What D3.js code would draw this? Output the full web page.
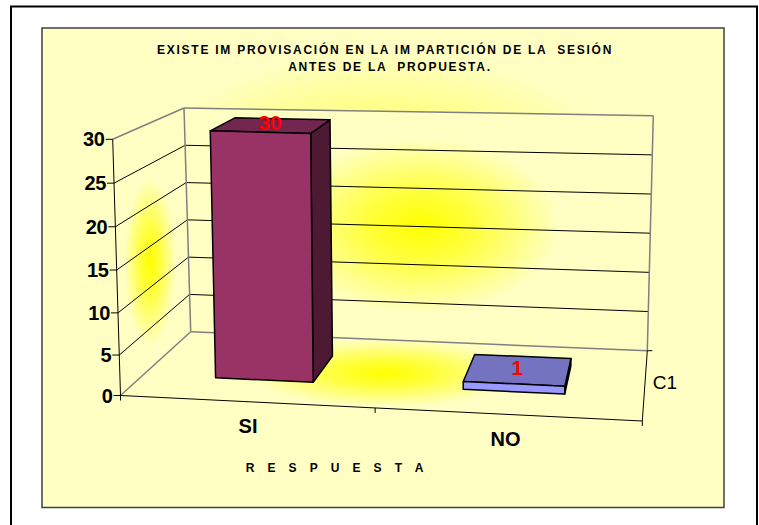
<!DOCTYPE html>
<html>
<head>
<meta charset="utf-8">
<script src="https://cdn.jsdelivr.net/npm/d3@7"></script>
<style>
  html, body { margin: 0; padding: 0; background: #fff; }
  svg { display: block; }
  text { font-family: "Liberation Sans", Arial, sans-serif; fill: #000; }
</style>
</head>
<body>
<div id="chart"></div>
<script>
var categories = ["SI", "NO"],
    values = [30, 1],
    barColors = ["#993366", "#9999FF"],
    topColors = ["#732650", "#7373BF"],
    sideColors = ["#4D1933", "#000000"],
    yTicks = [0, 5, 10, 15, 20, 25, 30],
    seriesName = "C1",
    titleLines = ["EXISTE IM PROVISACIÓN EN LA IM PARTICIÓN DE LA  SESIÓN", "ANTES DE LA  PROPUESTA."],
    xTitle = "R E S P U E S T A";

var svg = d3.select("#chart").append("svg").attr("width", 759).attr("height", 525);
var defs = svg.append("defs");

// corners of the 3d box, measured on the picture
var frontBottomL = [120.5, 395.5], frontBottomR = [642.3, 421],
    frontTopL = [112.7, 139.3], frontTopR = [650, 155],
    backBottomL = [190.7, 331.7], backBottomR = [647.3, 350.7],
    backTopL = [184, 108], backTopR = [653.3, 115.7];

var x = d3.scaleBand().domain(categories).range([0.005, 0.995]).paddingInner(0.6).paddingOuter(0.3);
var persp = d3.scalePow().exponent(1.035).domain([0, 1]).range([0, 1]);
var yFront = d3.scalePow().exponent(1.03).domain([0, 30]).range([0, 1]);
var yBack = d3.scaleLinear().domain([0, 30]).range([0, 1]);

function mix(a, b, t) { return [a[0] + (b[0] - a[0]) * t, a[1] + (b[1] - a[1]) * t]; }

// u across (0-1), val is the data value, z depth (0 front - 1 back)
function project(u, val, z) {
    var p = persp(u);
    var f = mix(mix(frontBottomL, frontBottomR, p), mix(frontTopL, frontTopR, p), yFront(val));
    var b = mix(mix(backBottomL, backBottomR, p), mix(backTopL, backTopR, p), yBack(val));
    return mix(f, b, z);
}

var line = d3.line();
var poly = d3.line().curve(d3.curveLinearClosed);

function glow(id, cx, cy, rx, ry, stops) {
    var g = defs.append("radialGradient").attr("id", id)
        .attr("gradientUnits", "userSpaceOnUse")
        .attr("cx", 0).attr("cy", 0).attr("r", 1)
        .attr("gradientTransform", `translate(${cx},${cy}) scale(${rx},${ry})`);
    stops.forEach(function(s) {
        g.append("stop").attr("offset", s[0]).attr("stop-color", s[1]);
    });
}

var pale = "#FFFFC4";
glow("bgGlow", 383, 225, 270, 175, [[0, "#FFFF00"], [0.7, "#FFFF90"], [1, pale]]);
glow("wallGlow", 420, 226, 140, 88, [[0, "#FFFF00"], [0.4, "#FFFF40"], [1, pale]]);
glow("sideGlow", 150, 262, 26, 84, [[0, "#FFFF00"], [0.4, "#FFFF40"], [1, pale]]);
glow("floorGlow", 385, 373, 135, 34, [[0, "#FFFF00"], [0.4, "#FFFF40"], [1, pale]]);

// outer frame, runs off the bottom of the page
svg.append("path")
    .attr("d", "M11,535V6.5H757V535")
    .attr("fill", "none").attr("stroke", "#000").attr("stroke-width", 2);

svg.append("rect")
    .attr("x", 42).attr("y", 28).attr("width", 682).attr("height", 479.5)
    .attr("fill", "url(#bgGlow)")
    .attr("stroke", "#404040").attr("stroke-width", 1.5);

// walls
svg.append("path").attr("d", poly([backBottomL, backBottomR, backTopR, backTopL])).attr("fill", "url(#wallGlow)");
svg.append("path").attr("d", poly([frontBottomL, backBottomL, backTopL, frontTopL])).attr("fill", "url(#sideGlow)");
svg.append("path").attr("d", poly([frontBottomL, frontBottomR, backBottomR, backBottomL])).attr("fill", "url(#floorGlow)");

// gridlines
yTicks.forEach(function(t) {
    var edge = (t == 0 || t == 30);
    svg.append("path")
        .attr("d", line([project(0, t, 1), project(1, t, 1)]))
        .attr("fill", "none").attr("stroke", edge ? "#808080" : "#000").attr("stroke-width", edge ? 1.5 : 1);
    svg.append("path")
        .attr("d", line([project(0, t, 0), project(0, t, 1)]))
        .attr("fill", "none").attr("stroke", edge ? "#808080" : "#000").attr("stroke-width", edge ? 1.5 : 1);
});

svg.append("path").attr("d", line([backTopL, backBottomL]))
    .attr("fill", "none").attr("stroke", "#808080").attr("stroke-width", 1.5);
svg.append("path").attr("d", line([backTopR, backBottomR]))
    .attr("fill", "none").attr("stroke", "#808080").attr("stroke-width", 1.5);

// axes
var axisPath = svg.append("g").attr("fill", "none").attr("stroke", "#000").attr("stroke-width", 1);
axisPath.append("path").attr("d", line([frontTopL, frontBottomL]));
axisPath.append("path").attr("d", line([frontBottomL, frontBottomR]));
axisPath.append("path").attr("d", line([frontBottomR, backBottomR]));

yTicks.forEach(function(t) {
    var p = project(0, t, 0);
    axisPath.append("path").attr("d", line([[p[0] - 7, p[1]], p]));
    svg.append("text")
        .attr("x", p[0] - 8).attr("y", p[1] + 7)
        .attr("text-anchor", "end")
        .attr("font-size", 20).attr("font-weight", "bold").attr("letter-spacing", -0.3)
        .text(t);
});

[0, 0.5, 1].forEach(function(u) {
    var p = project(u, 0, 0);
    axisPath.append("path").attr("d", line([p, [p[0], p[1] + 5]]));
});
axisPath.append("path").attr("d", line([backBottomR, [backBottomR[0] + 5, backBottomR[1]]]));

// bars
categories.forEach(function(c, i) {
    var u0 = x(c), u1 = x(c) + x.bandwidth(), v = values[i], z0 = 0.33, z1 = 0.73;
    var g = svg.append("g").attr("stroke", "#000").attr("stroke-width", 1.5).attr("stroke-linejoin", "round");
    g.append("path").attr("fill", sideColors[i])
        .attr("d", poly([project(u1, 0, z0), project(u1, 0, z1), project(u1, v, z1), project(u1, v, z0)]));
    g.append("path").attr("fill", topColors[i])
        .attr("d", poly([project(u0, v, z0), project(u1, v, z0), project(u1, v, z1), project(u0, v, z1)]));
    g.append("path").attr("fill", barColors[i])
        .attr("d", poly([project(u0, 0, z0), project(u1, 0, z0), project(u1, v, z0), project(u0, v, z0)]));

    var lab = project(x(c) + x.bandwidth() / 2, v, 0.53);
    svg.append("text")
        .attr("x", lab[0] - 1).attr("y", lab[1] + 5)
        .attr("text-anchor", "middle")
        .attr("font-size", 21).attr("font-weight", "bold")
        .style("fill", "#FF0000")
        .text(v);
});

// category labels
svg.selectAll(".cat").data(categories).enter().append("text")
    .attr("class", "cat")
    .attr("x", function(c, i) { return project(x(c) + x.bandwidth() / 2, 0, 0)[0] + (i == 0 ? 2 : -1); })
    .attr("y", function(c, i) { return i == 0 ? 433 : 446; })
    .attr("text-anchor", "middle")
    .attr("font-size", 20).attr("font-weight", "bold")
    .text(function(c) { return c; });

svg.append("text")
    .attr("x", 665).attr("y", 389)
    .attr("text-anchor", "middle")
    .attr("font-size", 19)
    .text(seriesName);

// titles
svg.selectAll(".title").data(titleLines).enter().append("text")
    .attr("class", "title")
    .attr("x", function(d, i) { return i == 0 ? 385 : 390; })
    .attr("y", function(d, i) { return 53.5 + i * 17; })
    .attr("text-anchor", "middle")
    .attr("font-size", 12).attr("font-weight", "bold")
    .attr("letter-spacing", 1.75)
    .attr("xml:space", "preserve").style("white-space", "pre")
    .text(function(d) { return d; });

svg.append("text")
    .attr("x", 337).attr("y", 472)
    .attr("text-anchor", "middle")
    .attr("font-size", 12).attr("font-weight", "bold")
    .attr("letter-spacing", 4.9)
    .text(xTitle);
</script>
</body>
</html>
